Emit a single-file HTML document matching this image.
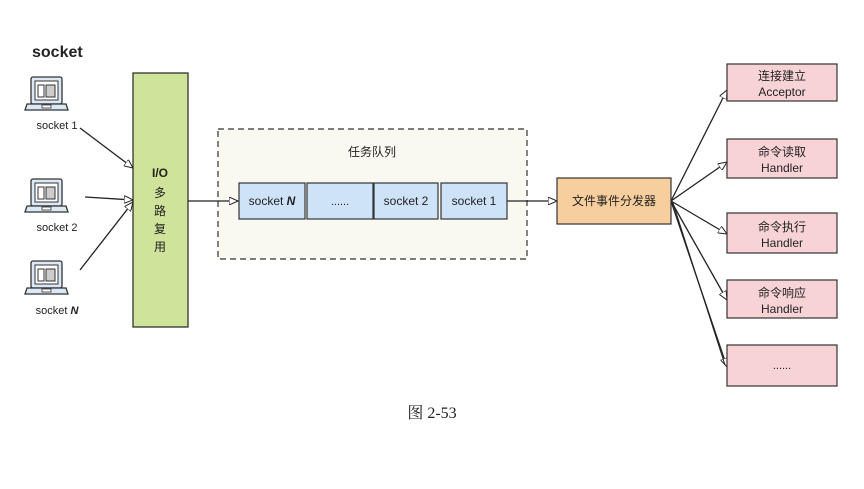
<!DOCTYPE html>
<html><head><meta charset="utf-8"><style>
body{margin:0;background:#fff}
svg text{font-family:"Liberation Sans","Noto Sans CJK SC",sans-serif;fill:#222}
</style></head><body>
<svg width="864" height="484" viewBox="0 0 864 484" xmlns="http://www.w3.org/2000/svg">
<defs>
<marker id="a" markerWidth="10" markerHeight="8" refX="9" refY="4" orient="auto" markerUnits="userSpaceOnUse"><path d="M0,0 L9,4 L0,8 Z" fill="#fff" stroke="#222" stroke-width="1"/></marker>
<g id="lap">
<rect x="5" y="3" width="31" height="27" rx="2" fill="#dbe9f7" stroke="#333" stroke-width="1.3"/>
<rect x="9" y="7" width="23" height="19" fill="#fff" stroke="#333" stroke-width="1"/>
<rect x="12" y="11" width="6" height="12" fill="#fff" stroke="#333"/>
<rect x="20" y="11" width="9" height="12" fill="#ccc" stroke="#333"/>
<path d="M1,30 L40,30 L42,36 L-1,36 Z" fill="#dbe9f7" stroke="#333" stroke-width="1.3"/>
<rect x="16" y="31" width="9" height="3" fill="#fff" stroke="#333" stroke-width="0.8"/>
</g>
</defs>
<text x="32" y="57" font-size="16" font-weight="bold">socket</text>
<use href="#lap" x="26" y="74"/>
<use href="#lap" x="26" y="176"/>
<use href="#lap" x="26" y="258"/>
<text x="57" y="129" font-size="11" text-anchor="middle">socket 1</text>
<text x="57" y="231" font-size="11" text-anchor="middle">socket 2</text>
<text x="57" y="314" font-size="11" text-anchor="middle">socket <tspan font-weight="bold" font-style="italic">N</tspan></text>
<rect x="218" y="129" width="309" height="130" fill="#f9f8f1" stroke="#333" stroke-width="1.2" stroke-dasharray="6,4"/>
<text x="372" y="156" font-size="12" text-anchor="middle">任务队列</text>
<rect x="133" y="73" width="55" height="254" fill="#cfe39a" stroke="#333" stroke-width="1.3"/>
<text x="160" y="177" font-size="12" text-anchor="middle" font-weight="bold">I/O</text>
<text x="160" y="197" font-size="12" text-anchor="middle">多</text>
<text x="160" y="215" font-size="12" text-anchor="middle">路</text>
<text x="160" y="233" font-size="12" text-anchor="middle">复</text>
<text x="160" y="251" font-size="12" text-anchor="middle">用</text>
<g stroke="#222" stroke-width="1.3" fill="none" marker-end="url(#a)">
<line x1="80" y1="128" x2="133" y2="168"/>
<line x1="85" y1="197" x2="133" y2="200"/>
<line x1="80" y1="270" x2="133" y2="202"/>
<line x1="188" y1="201" x2="238" y2="201"/>
<line x1="507" y1="201" x2="557" y2="201"/>
<line x1="671" y1="201" x2="727" y2="90"/>
<line x1="671" y1="201" x2="727" y2="162"/>
<line x1="671" y1="201" x2="727" y2="234"/>
<line x1="671" y1="201" x2="727" y2="300"/>
<line x1="671" y1="201" x2="727" y2="367"/>
</g>
<line x1="673" y1="203" x2="725" y2="365" stroke="#222" stroke-width="1"/>
<g fill="#cfe3f8" stroke="#333" stroke-width="1.2">
<rect x="239" y="183" width="66" height="36"/>
<rect x="307" y="183" width="66" height="36"/>
<rect x="374" y="183" width="64" height="36"/>
<rect x="441" y="183" width="66" height="36"/>
</g>
<text x="272" y="205" font-size="12" text-anchor="middle">socket <tspan font-weight="bold" font-style="italic">N</tspan></text>
<text x="340" y="205" font-size="11" text-anchor="middle">......</text>
<text x="406" y="205" font-size="12" text-anchor="middle">socket 2</text>
<text x="474" y="205" font-size="12" text-anchor="middle">socket 1</text>
<rect x="557" y="178" width="114" height="46" fill="#f7cf9f" stroke="#333" stroke-width="1.2"/>
<text x="614" y="205" font-size="12" text-anchor="middle">文件事件分发器</text>
<g fill="#f8d3d6" stroke="#333" stroke-width="1.2">
<rect x="727" y="64" width="110" height="37"/>
<rect x="727" y="139" width="110" height="39"/>
<rect x="727" y="213" width="110" height="40"/>
<rect x="727" y="280" width="110" height="38"/>
<rect x="727" y="345" width="110" height="41"/>
</g>
<g font-size="12" text-anchor="middle">
<text x="782" y="80">连接建立</text><text x="782" y="96">Acceptor</text>
<text x="782" y="156">命令读取</text><text x="782" y="172">Handler</text>
<text x="782" y="231">命令执行</text><text x="782" y="247">Handler</text>
<text x="782" y="297">命令响应</text><text x="782" y="313">Handler</text>
<text x="782" y="369" font-size="11">......</text>
</g>
<text x="432" y="418" font-size="16" text-anchor="middle" style="font-family:'Liberation Serif','Noto Serif CJK SC',serif">图 2-53</text>
</svg>
</body></html>
